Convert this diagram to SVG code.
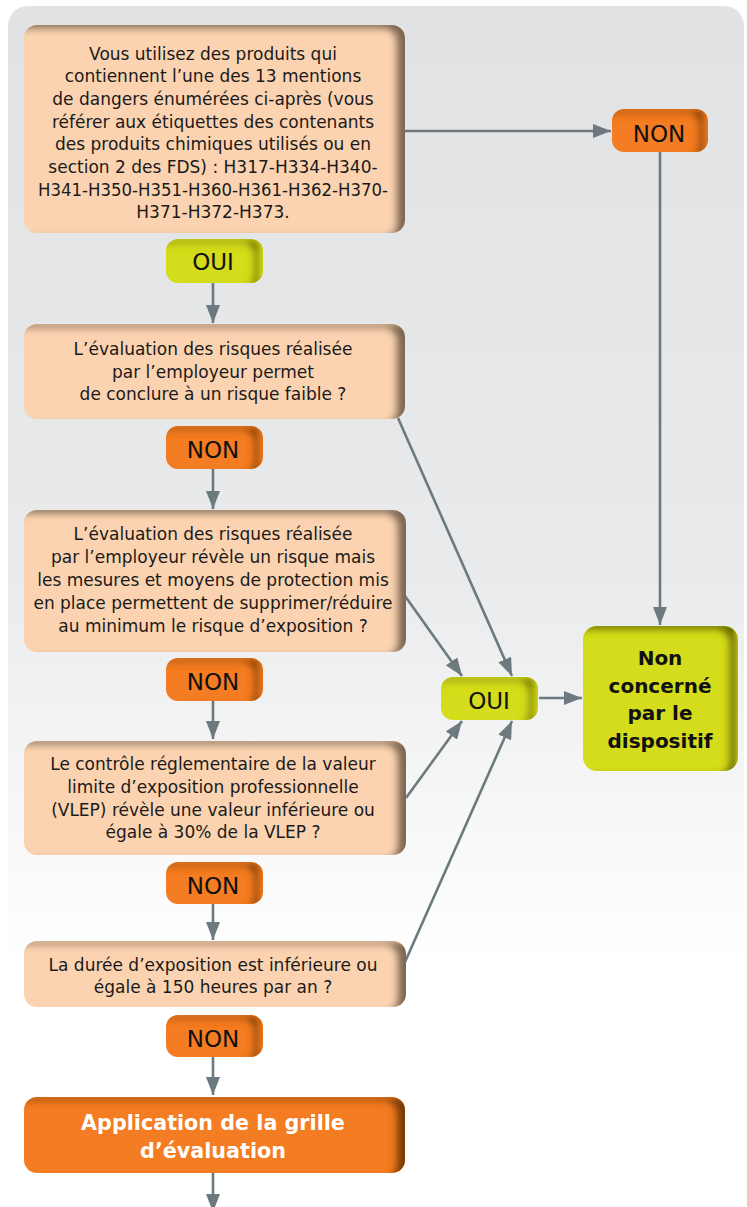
<svg xmlns="http://www.w3.org/2000/svg" width="747" height="1207" viewBox="0 0 747 1207">
<style>
.q{fill:#fbd3b0}
.o{fill:#f47c20}
.g{fill:#d4dc1f}
.t{font-family:"DejaVu Sans",Verdana,sans-serif;font-size:17px;fill:#1a1a1a;text-anchor:middle}
.lab{font-family:"DejaVu Sans",Verdana,sans-serif;font-size:23px;fill:#111;text-anchor:middle}
.b{font-family:"DejaVu Sans",Verdana,sans-serif;font-size:20px;font-weight:bold;text-anchor:middle}
.c{stroke:#6c7a80;stroke-width:2.6;fill:none;marker-end:url(#ah)}
</style>
<defs>
<linearGradient id="bg" x1="0" y1="0" x2="0" y2="1">
<stop offset="0" stop-color="#e0e2e4"/>
<stop offset="0.45" stop-color="#e9eaeb"/>
<stop offset="0.78" stop-color="#ffffff"/>
</linearGradient>
<filter id="ins" x="-5%" y="-5%" width="110%" height="110%">
<feFlood flood-color="#2a1800" flood-opacity="0.8"/>
<feComposite in2="SourceAlpha" operator="out"/>
<feOffset dx="-9" dy="4"/>
<feGaussianBlur stdDeviation="3.5"/>
<feComposite in2="SourceAlpha" operator="in" result="sh"/>
<feMerge><feMergeNode in="SourceGraphic"/><feMergeNode in="sh"/></feMerge>
</filter>
<marker id="ah" markerWidth="18" markerHeight="14" refX="18" refY="7" orient="auto" markerUnits="userSpaceOnUse">
<path d="M0,0 L18,7 L0,14 Z" fill="#6c7a80"/>
</marker>
</defs>
<rect x="8" y="6" width="736" height="1230" rx="20" fill="url(#bg)"/>

<g id="connectors">
<line class="c" x1="213" y1="283" x2="213" y2="323"/>
<line class="c" x1="213" y1="469" x2="213" y2="509"/>
<line class="c" x1="213" y1="701" x2="213" y2="739"/>
<line class="c" x1="213" y1="904" x2="213" y2="940"/>
<line class="c" x1="213" y1="1057" x2="213" y2="1095"/>
<line class="c" x1="213" y1="1173" x2="213" y2="1212"/>
<line class="c" x1="405" y1="131" x2="611" y2="131"/>
<line class="c" x1="660" y1="152" x2="660" y2="625"/>
<line class="c" x1="398" y1="418" x2="512" y2="676"/>
<line class="c" x1="405" y1="596" x2="462" y2="676"/>
<line class="c" x1="406" y1="798" x2="462" y2="721"/>
<line class="c" x1="405" y1="962" x2="512" y2="721"/>
<line class="c" x1="539" y1="698" x2="582" y2="698"/>
</g>

<g id="q1">
<rect class="q" x="24" y="25" width="381" height="208" rx="13" filter="url(#ins)"/>
<text class="t"><tspan x="213" y="59.5">Vous utilisez des produits qui</tspan><tspan x="213" y="82.2">contiennent l’une des 13 mentions</tspan><tspan x="213" y="104.9">de dangers énumérées ci-après (vous</tspan><tspan x="213" y="127.6">référer aux étiquettes des contenants</tspan><tspan x="213" y="150.3">des produits chimiques utilisés ou en</tspan><tspan x="213" y="173">section 2 des FDS) : H317-H334-H340-</tspan><tspan x="213" y="195.7" textLength="350" lengthAdjust="spacingAndGlyphs">H341-H350-H351-H360-H361-H362-H370-</tspan><tspan x="213" y="218.4">H371-H372-H373.</tspan></text>
</g>
<g id="oui1">
<rect class="g" x="166" y="239" width="97" height="44" rx="12" filter="url(#ins)"/>
<text class="lab" x="213" y="270">OUI</text>
</g>
<g id="non_right">
<rect class="o" x="612" y="109" width="96" height="43" rx="12" filter="url(#ins)"/>
<text class="lab" x="659" y="142">NON</text>
</g>
<g id="q2">
<rect class="q" x="24" y="324" width="381" height="95" rx="13" filter="url(#ins)"/>
<text class="t"><tspan x="213" y="355">L’évaluation des risques réalisée</tspan><tspan x="213" y="377.7">par l’employeur permet</tspan><tspan x="213" y="400.4">de conclure à un risque faible ?</tspan></text>
</g>
<g id="non2">
<rect class="o" x="166" y="426" width="97" height="43" rx="12" filter="url(#ins)"/>
<text class="lab" x="213" y="458">NON</text>
</g>
<g id="q3">
<rect class="q" x="24" y="510" width="382" height="142" rx="13" filter="url(#ins)"/>
<text class="t"><tspan x="213" y="540">L’évaluation des risques réalisée</tspan><tspan x="213" y="563">par l’employeur révèle un risque mais</tspan><tspan x="213" y="586">les mesures et moyens de protection mis</tspan><tspan x="213" y="609">en place permettent de supprimer/réduire</tspan><tspan x="213" y="632">au minimum le risque d’exposition ?</tspan></text>
</g>
<g id="non3">
<rect class="o" x="166" y="658" width="97" height="43" rx="12" filter="url(#ins)"/>
<text class="lab" x="213" y="690">NON</text>
</g>
<g id="q4">
<rect class="q" x="24" y="741" width="382" height="114" rx="13" filter="url(#ins)"/>
<text class="t"><tspan x="213" y="770">Le contrôle réglementaire de la valeur</tspan><tspan x="213" y="793">limite d’exposition professionnelle</tspan><tspan x="213" y="815.7">(VLEP) révèle une valeur inférieure ou</tspan><tspan x="213" y="838.3">égale à 30% de la VLEP ?</tspan></text>
</g>
<g id="non4">
<rect class="o" x="166" y="862" width="97" height="42" rx="12" filter="url(#ins)"/>
<text class="lab" x="213" y="894">NON</text>
</g>
<g id="q5">
<rect class="q" x="24" y="941" width="382" height="66" rx="13" filter="url(#ins)"/>
<text class="t"><tspan x="213" y="970.7">La durée d’exposition est inférieure ou</tspan><tspan x="213" y="993.3">égale à 150 heures par an ?</tspan></text>
</g>
<g id="non5">
<rect class="o" x="166" y="1015" width="97" height="42" rx="12" filter="url(#ins)"/>
<text class="lab" x="213" y="1047">NON</text>
</g>
<g id="final">
<rect class="o" x="24" y="1097" width="381" height="76" rx="13" filter="url(#ins)"/>
<text class="b" fill="#ffffff" style="font-size:20.7px"><tspan x="213" y="1130">Application de la grille</tspan><tspan x="213" y="1158">d’évaluation</tspan></text>
</g>
<g id="oui_right">
<rect class="g" x="441" y="677" width="97" height="43" rx="12" filter="url(#ins)"/>
<text class="lab" x="489" y="709">OUI</text>
</g>
<g id="non_concerne">
<rect class="g" x="583" y="626" width="155" height="145" rx="14" filter="url(#ins)"/>
<text class="b" fill="#111"><tspan x="660" y="665">Non</tspan><tspan x="660" y="692.7">concerné</tspan><tspan x="660" y="720.4">par le</tspan><tspan x="660" y="748">dispositif</tspan></text>
</g>
</svg>
